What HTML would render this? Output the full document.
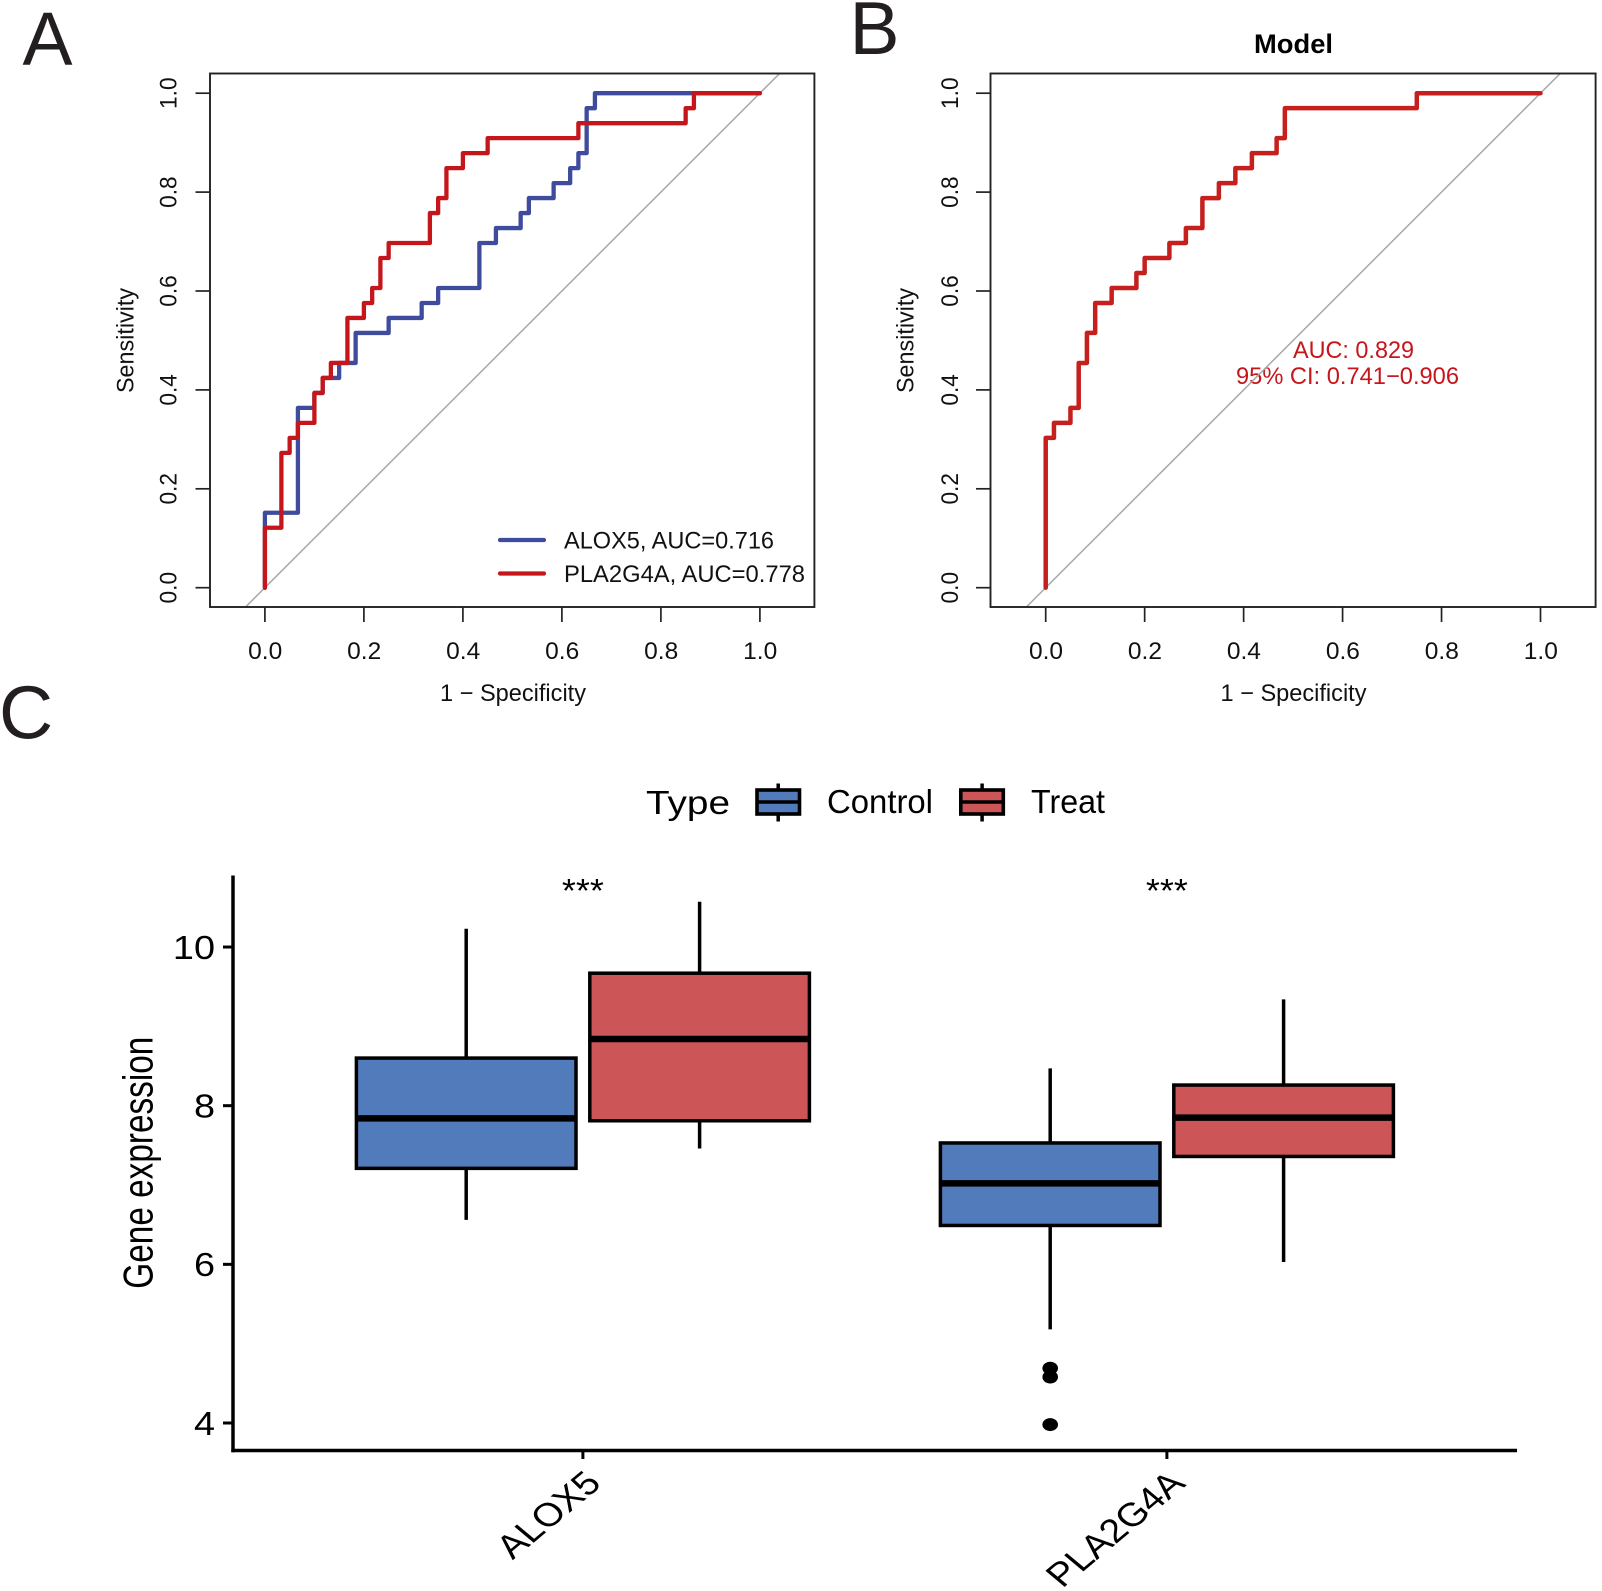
<!DOCTYPE html>
<html lang="en">
<head>
<meta charset="utf-8">
<title>ROC curves and gene expression boxplot</title>
<style>
html,body{margin:0;padding:0;background:#fff;}
svg{display:block;}
text{font-family:"Liberation Sans",Arial,sans-serif;}
</style>
</head>
<body>
<svg id="fig" xmlns="http://www.w3.org/2000/svg" width="1602" height="1591" viewBox="0 0 1602 1591">
<defs>
<clipPath id="clipA"><rect x="210" y="73.5" width="604.4" height="533.5"/></clipPath>
<clipPath id="clipB"><rect x="990.5" y="73.5" width="605.1" height="533.5"/></clipPath>
</defs>
<rect x="0" y="0" width="1602" height="1591" fill="#fff"/>
<text x="22.5" y="64.5" font-size="75" fill="#231f20">A</text>
<text x="849.5" y="54" font-size="75" fill="#231f20">B</text>
<text x="-1" y="738.5" font-size="75" fill="#231f20">C</text>
<text x="1293.5" y="53" font-size="27" font-weight="bold" text-anchor="middle" textLength="79" lengthAdjust="spacingAndGlyphs" fill="#000">Model</text>

<text x="513" y="701" font-size="24" text-anchor="middle" textLength="146" lengthAdjust="spacingAndGlyphs" fill="#111">1 − Specificity</text>
<text x="1293.5" y="701" font-size="24" text-anchor="middle" textLength="146" lengthAdjust="spacingAndGlyphs" fill="#111">1 − Specificity</text>
<text transform="translate(133.4,340.5) rotate(-90)" font-size="24" text-anchor="middle" textLength="105" lengthAdjust="spacingAndGlyphs" fill="#111">Sensitivity</text>
<text transform="translate(913.7,340.5) rotate(-90)" font-size="24" text-anchor="middle" textLength="105" lengthAdjust="spacingAndGlyphs" fill="#111">Sensitivity</text>

<line x1="500" y1="540" x2="544" y2="540" stroke="#3f4c9e" stroke-width="4.2" stroke-linecap="round"/>
<line x1="500" y1="573.5" x2="544" y2="573.5" stroke="#c5161c" stroke-width="4.2" stroke-linecap="round"/>
<text x="564" y="548.7" font-size="24" textLength="210" lengthAdjust="spacingAndGlyphs" fill="#111">ALOX5, AUC=0.716</text>
<text x="564" y="582.2" font-size="24" textLength="241" lengthAdjust="spacingAndGlyphs" fill="#111">PLA2G4A, AUC=0.778</text>

<text x="1293" y="358" font-size="24" textLength="121" lengthAdjust="spacingAndGlyphs" fill="#c5161c">AUC: 0.829</text>
<text x="1236" y="383.8" font-size="24" textLength="223" lengthAdjust="spacingAndGlyphs" fill="#c5161c">95% CI: 0.741−0.906</text>

<text x="646" y="814" font-size="33" textLength="84" lengthAdjust="spacingAndGlyphs" fill="#000">Type</text>
<g>
<line x1="778.2" y1="783.5" x2="778.2" y2="821.5" stroke="#000" stroke-width="3.5"/>
<rect x="757" y="790" width="42.5" height="24" fill="#527bbb" stroke="#000" stroke-width="3.6"/>
<line x1="757" y1="802" x2="799.5" y2="802" stroke="#000" stroke-width="3.6"/>
</g>
<text x="827" y="813" font-size="33" textLength="106" lengthAdjust="spacingAndGlyphs" fill="#000">Control</text>
<g>
<line x1="982.1" y1="783.5" x2="982.1" y2="821.5" stroke="#000" stroke-width="3.5"/>
<rect x="960.8" y="790" width="42.5" height="24" fill="#cc5558" stroke="#000" stroke-width="3.6"/>
<line x1="960.8" y1="802" x2="1003.3" y2="802" stroke="#000" stroke-width="3.6"/>
</g>
<text x="1031" y="813" font-size="33" textLength="74" lengthAdjust="spacingAndGlyphs" fill="#000">Treat</text>

<text transform="translate(152.5,1162.7) scale(1.25,1) rotate(-90)" font-size="33" text-anchor="middle" textLength="252" lengthAdjust="spacingAndGlyphs" fill="#000">Gene expression</text>
<g id="layer"></g>
</svg>
<script>
// ROC tick values (panels A and B)
const rocTicks = [0, 0.2, 0.4, 0.6, 0.8, 1];
const rocTickLabels = ["0.0", "0.2", "0.4", "0.6", "0.8", "1.0"];

// Panel A: ALOX5 ROC vertices
const alox5Fpr = [0, 0, 0.0667, 0.0667, 0.1, 0.1, 0.1167, 0.1167, 0.15, 0.15, 0.1833, 0.1833, 0.25, 0.25, 0.3167, 0.3167, 0.35, 0.35, 0.4333, 0.4333, 0.4667, 0.4667, 0.5167, 0.5167, 0.5333, 0.5333, 0.5833, 0.5833, 0.6167, 0.6167, 0.6333, 0.6333, 0.65, 0.65, 0.6667, 0.6667, 1];
const alox5Tpr = [0, 0.1515, 0.1515, 0.3636, 0.3636, 0.3939, 0.3939, 0.4242, 0.4242, 0.4545, 0.4545, 0.5152, 0.5152, 0.5455, 0.5455, 0.5758, 0.5758, 0.6061, 0.6061, 0.697, 0.697, 0.7273, 0.7273, 0.7576, 0.7576, 0.7879, 0.7879, 0.8182, 0.8182, 0.8485, 0.8485, 0.8788, 0.8788, 0.9697, 0.9697, 1, 1];

// Panel A: PLA2G4A ROC vertices
const pla2g4aFpr = [0, 0, 0.0333, 0.0333, 0.05, 0.05, 0.0667, 0.0667, 0.1, 0.1, 0.1167, 0.1167, 0.1333, 0.1333, 0.1667, 0.1667, 0.2, 0.2, 0.2167, 0.2167, 0.2333, 0.2333, 0.25, 0.25, 0.3333, 0.3333, 0.35, 0.35, 0.3667, 0.3667, 0.4, 0.4, 0.45, 0.45, 0.6333, 0.6333, 0.85, 0.85, 0.8667, 0.8667, 1];
const pla2g4aTpr = [0, 0.1212, 0.1212, 0.2727, 0.2727, 0.303, 0.303, 0.3333, 0.3333, 0.3939, 0.3939, 0.4242, 0.4242, 0.4545, 0.4545, 0.5455, 0.5455, 0.5758, 0.5758, 0.6061, 0.6061, 0.6667, 0.6667, 0.697, 0.697, 0.7576, 0.7576, 0.7879, 0.7879, 0.8485, 0.8485, 0.8788, 0.8788, 0.9091, 0.9091, 0.9394, 0.9394, 0.9697, 0.9697, 1, 1];

// Panel B: Model ROC vertices
const modelFpr = [0, 0, 0.0167, 0.0167, 0.05, 0.05, 0.0667, 0.0667, 0.0833, 0.0833, 0.1, 0.1, 0.1333, 0.1333, 0.1833, 0.1833, 0.2, 0.2, 0.25, 0.25, 0.2833, 0.2833, 0.3167, 0.3167, 0.35, 0.35, 0.3833, 0.3833, 0.4167, 0.4167, 0.4667, 0.4667, 0.4833, 0.4833, 0.75, 0.75, 1];
const modelTpr = [0, 0.303, 0.303, 0.3333, 0.3333, 0.3636, 0.3636, 0.4545, 0.4545, 0.5152, 0.5152, 0.5758, 0.5758, 0.6061, 0.6061, 0.6364, 0.6364, 0.6667, 0.6667, 0.697, 0.697, 0.7273, 0.7273, 0.7879, 0.7879, 0.8182, 0.8182, 0.8485, 0.8485, 0.8788, 0.8788, 0.9091, 0.9091, 0.9697, 0.9697, 1, 1];

// Panel C: boxplot data
const geneCategories = ["ALOX5", "PLA2G4A"];
const exprTicks = [4, 6, 8, 10];
const exprTickLabels = ["4", "6", "8", "10"];
const controlWhiskerLow = [6.56, 5.18];
const controlQ1 = [7.21, 6.49];
const controlMedian = [7.84, 7.02];
const controlQ3 = [8.60, 7.53];
const controlWhiskerHigh = [10.23, 8.47];
const treatWhiskerLow = [7.46, 6.03];
const treatQ1 = [7.81, 7.36];
const treatMedian = [8.84, 7.85];
const treatQ3 = [9.67, 8.26];
const treatWhiskerHigh = [10.57, 9.34];
const controlOutliers = [[], [4.69, 4.58, 3.98]];
const significance = ["***", "***"];

const NS = "http://www.w3.org/2000/svg";
const layer = document.getElementById("layer");

function make(tag, attrs, parent) {
  const node = document.createElementNS(NS, tag);
  for (const k in attrs) node.setAttribute(k, attrs[k]);
  (parent || layer).appendChild(node);
  return node;
}

// Axis functions
const xA = v => 264.9 + 495 * v;
const xB = v => 1045.7 + 494.8 * v;
const yRoc = v => 587.7 - 494.5 * v;
const xCat = i => 582.9 + 584 * i;
const yExpr = v => 1423 - (v - 4) * 79.33;
const DODGE = 116.7;
const BOX_W = 219.6;

function drawRocFrame(prefix, x, left, right, tickLabelBaseX, clipId) {
  const diag = make("line", {x1: x(-1), y1: yRoc(-1), x2: x(2), y2: yRoc(2), stroke: "#a8a8a8", "stroke-width": 1.5, "clip-path": "url(#" + clipId + ")"});
  
  

  const frame = make("rect", {x: left, y: 73.5, width: right - left, height: 533.5, fill: "none", stroke: "#222", "stroke-width": 1.9});
  
  

  rocTicks.forEach((t, i) => {
    const tx = make("line", {x1: x(t), y1: 607, x2: x(t), y2: 622, stroke: "#222", "stroke-width": 1.7});
    
    

    const lx = make("text", {x: x(t) + 0.3, y: 659, "font-size": 24.5, "text-anchor": "middle", fill: "#111"});
    
    
    lx.textContent = rocTickLabels[i];

    const ty = make("line", {x1: left - 14.5, y1: yRoc(t), x2: left, y2: yRoc(t), stroke: "#222", "stroke-width": 1.7});
    
    

    const ly = make("text", {transform: "translate(" + tickLabelBaseX + "," + yRoc(t) + ") rotate(-90)", "font-size": 24.5, "text-anchor": "middle", textLength: 31.5, lengthAdjust: "spacingAndGlyphs", fill: "#111"});
    
    
    ly.textContent = rocTickLabels[i];
  });
}

function rocPoints(fpr, tpr, x) {
  return fpr.map((f, i) => x(f).toFixed(2) + "," + yRoc(tpr[i]).toFixed(2)).join(" ");
}

drawRocFrame("panel-a", xA, 210, 814.4, 176.3, "clipA");
drawRocFrame("panel-b", xB, 990.5, 1595.6, 958, "clipB");

const lineAlox5 = make("polyline", {points: rocPoints(alox5Fpr, alox5Tpr, xA), fill: "none", stroke: "#3f4c9e", "stroke-width": 4.3, "stroke-linejoin": "round", "stroke-linecap": "round"});



const linePla = make("polyline", {points: rocPoints(pla2g4aFpr, pla2g4aTpr, xA), fill: "none", stroke: "#c5161c", "stroke-width": 4.3, "stroke-linejoin": "round", "stroke-linecap": "round"});



const lineModel = make("polyline", {points: rocPoints(modelFpr, modelTpr, xB), fill: "none", stroke: "#c5201e", "stroke-width": 4.5, "stroke-linejoin": "round", "stroke-linecap": "round"});



// Panel C axes
const axisY = make("line", {x1: 233, y1: 875.5, x2: 233, y2: 1452.3, stroke: "#000", "stroke-width": 3.5});



const axisX = make("line", {x1: 231.3, y1: 1450.5, x2: 1517, y2: 1450.5, stroke: "#000", "stroke-width": 3.5});



exprTicks.forEach((t, i) => {
  const tick = make("line", {x1: 223, y1: yExpr(t), x2: 233, y2: yExpr(t), stroke: "#000", "stroke-width": 3});
  
  

  const label = make("text", {transform: "translate(215," + (yExpr(t) + 11.8) + ") scale(1.13,1)", "font-size": 33.5, "text-anchor": "end", fill: "#000"});
  
  
  label.textContent = exprTickLabels[i];
});

geneCategories.forEach((name, i) => {
  const cx = xCat(i);
  const tick = make("line", {x1: cx, y1: 1450.5, x2: cx, y2: 1459, stroke: "#000", "stroke-width": 3});
  
  

  const label = make("text", {transform: "translate(" + (cx + 20) + ",1485) scale(1.2,1) rotate(-45)", "font-size": 33, "text-anchor": "end", fill: "#000"});
  
  
  label.textContent = name;

  const sig = make("text", {x: cx, y: 902, "font-size": 33, "text-anchor": "middle", textLength: 42, lengthAdjust: "spacingAndGlyphs", fill: "#000"});
  
  
  sig.textContent = significance[i];
});

function drawBox(prefix, cx, low, q1, med, q3, high, fill) {
  const whisker = make("line", {x1: cx, y1: yExpr(low), x2: cx, y2: yExpr(high), stroke: "#000", "stroke-width": 3.5});
  
  

  const box = make("rect", {x: cx - BOX_W / 2, y: yExpr(q3), width: BOX_W, height: yExpr(q1) - yExpr(q3), fill: fill, stroke: "#000", "stroke-width": 3.5});
  
  

  const median = make("line", {x1: cx - BOX_W / 2, y1: yExpr(med), x2: cx + BOX_W / 2, y2: yExpr(med), stroke: "#000", "stroke-width": 6.5});
  
  
}

geneCategories.forEach((name, i) => {
  const key = name.toLowerCase();
  drawBox(key + "-control", xCat(i) - DODGE, controlWhiskerLow[i], controlQ1[i], controlMedian[i], controlQ3[i], controlWhiskerHigh[i], "#527bbb");
  drawBox(key + "-treat", xCat(i) + DODGE, treatWhiskerLow[i], treatQ1[i], treatMedian[i], treatQ3[i], treatWhiskerHigh[i], "#cc5558");
  controlOutliers[i].forEach(v => {
    const dot = make("ellipse", {cx: xCat(i) - DODGE, cy: yExpr(v), rx: 7.8, ry: 6.5, fill: "#000"});
    
    
  });
});
</script>
</body>
</html>
